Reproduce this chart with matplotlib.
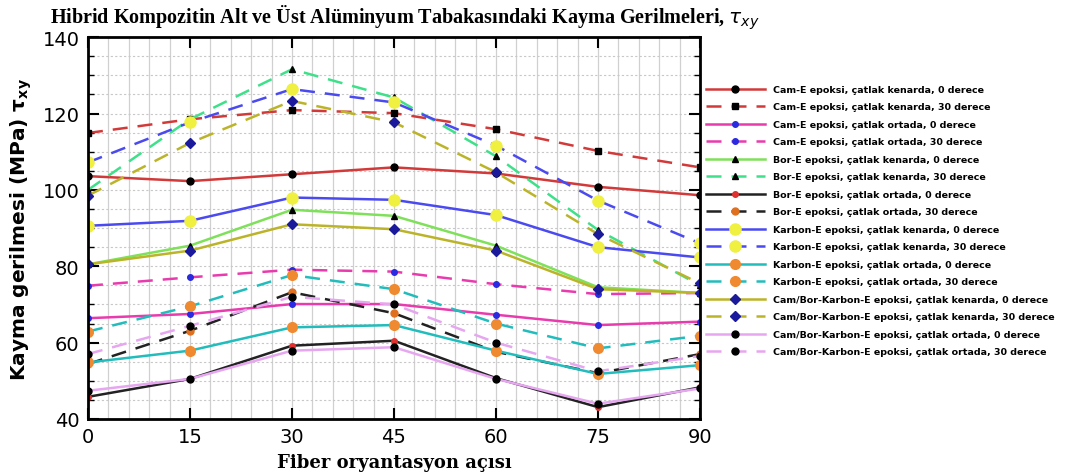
import matplotlib
matplotlib.use('Agg')
import matplotlib.pyplot as plt
from matplotlib.ticker import MultipleLocator

# Fiber açıları
aci = [0, 15, 30, 45, 60, 75, 90]

# Seri verileri (MPa)
cam_ken_0 = [103.6, 102.3, 104.1, 105.9, 104.3, 100.8, 98.6]
cam_ken_30 = [114.9, 118.5, 120.9, 120.1, 115.9, 110.2, 105.9]
cam_ort_0 = [66.4, 67.5, 70.1, 70.1, 67.3, 64.6, 65.5]
cam_ort_30 = [74.9, 77.1, 79.1, 78.6, 75.3, 72.7, 73.0]
bor_ken_0 = [80.5, 85.4, 94.8, 93.2, 85.4, 74.5, 73.0]
bor_ken_30 = [100.0, 118.5, 131.6, 124.2, 108.8, 89.5, 75.0]
bor_ort_0 = [45.8, 50.5, 59.2, 60.5, 50.7, 43.1, 48.3]
bor_ort_30 = [54.4, 63.1, 73.2, 67.7, 57.6, 52.0, 57.0]
kar_ken_0 = [90.6, 91.9, 98.0, 97.4, 93.4, 85.0, 82.3]
kar_ken_30 = [107.2, 117.7, 126.4, 122.9, 111.6, 97.2, 86.0]
kar_ort_0 = [54.8, 57.9, 64.0, 64.6, 57.9, 51.8, 54.1]
kar_ort_30 = [62.9, 69.5, 77.7, 74.0, 65.0, 58.5, 61.8]
cb_ken_0 = [80.5, 84.1, 91.0, 89.7, 84.1, 74.0, 73.0]
cb_ken_30 = [98.5, 112.3, 123.3, 117.7, 104.6, 88.4, 75.5]
cb_ort_0 = [47.4, 50.5, 57.9, 58.8, 50.5, 44.0, 48.0]
cb_ort_30 = [57.0, 64.4, 72.0, 70.0, 60.0, 52.5, 56.5]

etiketler = [
    'Cam-E epoksi, çatlak kenarda, 0 derece',
    'Cam-E epoksi, çatlak kenarda, 30 derece',
    'Cam-E epoksi, çatlak ortada, 0 derece',
    'Cam-E epoksi, çatlak ortada, 30 derece',
    'Bor-E epoksi, çatlak kenarda, 0 derece',
    'Bor-E epoksi, çatlak kenarda, 30 derece',
    'Bor-E epoksi, çatlak ortada, 0 derece',
    'Bor-E epoksi, çatlak ortada, 30 derece',
    'Karbon-E epoksi, çatlak kenarda, 0 derece',
    'Karbon-E epoksi, çatlak kenarda, 30 derece',
    'Karbon-E epoksi, çatlak ortada, 0 derece',
    'Karbon-E epoksi, çatlak ortada, 30 derece',
    'Cam/Bor-Karbon-E epoksi, çatlak kenarda, 0 derece',
    'Cam/Bor-Karbon-E epoksi, çatlak kenarda, 30 derece',
    'Cam/Bor-Karbon-E epoksi, çatlak ortada, 0 derece',
    'Cam/Bor-Karbon-E epoksi, çatlak ortada, 30 derece',
]

seriler = [cam_ken_0, cam_ken_30, cam_ort_0, cam_ort_30,
           bor_ken_0, bor_ken_30, bor_ort_0, bor_ort_30,
           kar_ken_0, kar_ken_30, kar_ort_0, kar_ort_30,
           cb_ken_0, cb_ken_30, cb_ort_0, cb_ort_30]

# çizgi rengi, işaret, işaret rengi, işaret boyu
stiller = [
    ('#d23a3a', 'o', 'black', 5),
    ('#d23a3a', 's', 'black', 5),
    ('#e83cae', 'o', '#2a2ae0', 4),
    ('#e83cae', 'o', '#2a2ae0', 4),
    ('#7fe05a', '^', 'black', 5),
    ('#3fe08a', '^', 'black', 5),
    ('#222222', 'o', '#e03030', 4),
    ('#222222', 'o', '#e07020', 5),
    ('#4a4af0', 'o', '#f0f040', 8),
    ('#4a4af0', 'o', '#f0f040', 8),
    ('#22bcbc', 'o', '#f08a30', 7),
    ('#22bcbc', 'o', '#f08a30', 7),
    ('#bcb428', 'D', '#1a1a9a', 5),
    ('#bcb428', 'D', '#1a1a9a', 5),
    ('#e6a6f0', 'o', 'black', 5),
    ('#e6a6f0', 'o', 'black', 5),
]

fig = plt.figure(figsize=(10.65, 4.77), dpi=100)
ax = fig.add_axes([0.0826, 0.1195, 0.5747, 0.8005])

for i, (y, lab, st) in enumerate(zip(seriler, etiketler, stiller)):
    renk, mk, mrenk, ms = st
    ls = '-' if i % 2 == 0 else (0, (6, 4))
    ax.plot(aci, y, color=renk, linestyle=ls, linewidth=1.8, marker=mk,
            markersize=ms, markerfacecolor=mrenk, markeredgecolor=mrenk,
            label=lab)

ax.set_xlim(0, 90)
ax.set_ylim(40, 140)
ax.xaxis.set_major_locator(MultipleLocator(15))
ax.xaxis.set_minor_locator(MultipleLocator(3))
ax.yaxis.set_major_locator(MultipleLocator(20))
ax.yaxis.set_minor_locator(MultipleLocator(5))
ax.grid(which='both', axis='x', color='#d0d0d0', linewidth=0.9)
ax.grid(which='both', axis='y', color='#c8c8c8', linewidth=0.8, linestyle=(0, (2, 2)))
ax.set_axisbelow(True)
ax.tick_params(which='major', direction='in', length=8, width=1.5,
               top=True, right=True, labelsize=14, pad=6)
ax.tick_params(which='minor', direction='in', length=4, width=1,
               top=False, bottom=False, right=True, left=True)
for s in ax.spines.values():
    s.set_linewidth(2)

ax.set_xlabel('Fiber oryantasyon açısı', fontsize=13, fontweight='bold',
              family='DejaVu Serif', labelpad=5)
ax.set_ylabel('Kayma gerilmesi (MPa) $\\mathbf{\\tau_{xy}}$', fontsize=14.5,
              fontweight='bold', family='DejaVu Sans', labelpad=6)

fig.text(0.047, 0.963, 'Hibrid Kompozitin Alt ve Üst Alüminyum Tabakasındaki Kayma Gerilmeleri, $\\tau_{xy}$',
         fontsize=14.5, fontweight='bold', family='Liberation Serif', va='center')

ax.legend(loc='upper left', bbox_to_anchor=(1.0, 0.89), frameon=False,
          prop={'weight': 'bold', 'size': 6.8}, handlelength=6.3,
          labelspacing=0.9, borderaxespad=0.2, handletextpad=0.8)

fig.savefig('out.png', dpi=100)
